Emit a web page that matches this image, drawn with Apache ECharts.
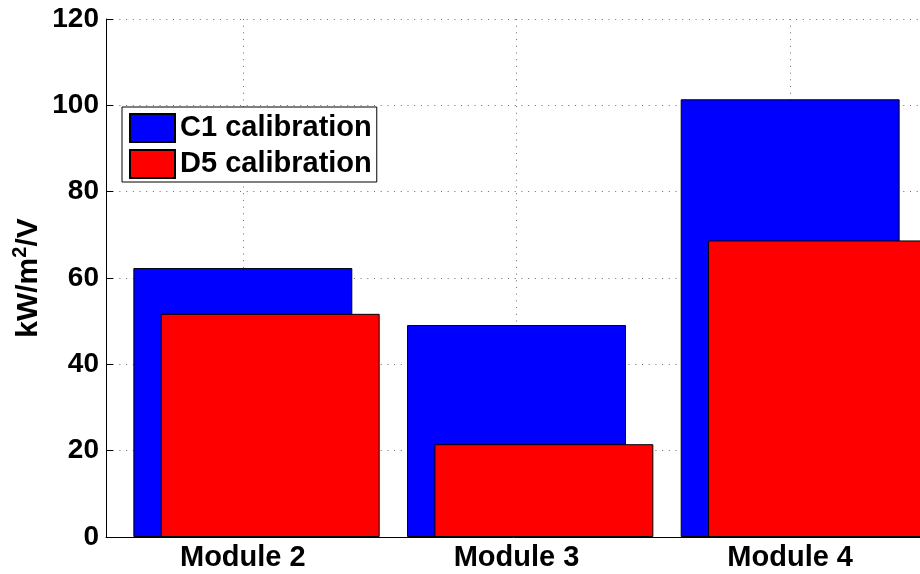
<!DOCTYPE html>
<html>
<head>
<meta charset="utf-8">
<script src="https://cdn.jsdelivr.net/npm/echarts@6/dist/echarts.min.js"></script>
<style>
html,body{margin:0;padding:0;background:#fff;}
#chart{width:920px;height:574px;}
</style>
</head>
<body>
<div id="chart"></div>
<script>
const categories = ['Module 2', 'Module 3', 'Module 4'];
const c1Values = [62.3, 49.1, 101.4];
const d5Values = [51.7, 21.5, 68.7];
const yMin = 0, yMax = 120, yStep = 20;
const seriesNames = ['C1 calibration', 'D5 calibration'];

const FONT = '"Liberation Sans", Arial, Helvetica, sans-serif';
const gridDots = { color: '#6a6a6a', width: 1, type: [1, 5.7] };

const chart = echarts.init(document.getElementById('chart'), null, { renderer: 'canvas' });
const barCommon = { type: 'bar', barWidth: '80%', barGap: '-87.5%' };

chart.setOption({
  animation: false,
  backgroundColor: '#ffffff',
  grid: { left: 106, width: 821, top: 19, bottom: 37, containLabel: false, outerBoundsMode: 'none' },
  legend: {
    data: seriesNames,
    orient: 'vertical',
    left: 122, top: 107,
    icon: 'rect',
    itemWidth: 45, itemHeight: 28, itemGap: 6,
    padding: [6, 5, 3, 7],
    borderColor: '#000', borderWidth: 1,
    backgroundColor: '#fff',
    textStyle: { fontFamily: FONT, fontWeight: 'bold', fontSize: 29, color: '#000', lineHeight: 28 }
  },
  xAxis: {
    type: 'category',
    data: categories,
    boundaryGap: true,
    axisLine: { show: true, lineStyle: { color: '#000', width: 1 } },
    axisTick: { show: true, inside: true, alignWithLabel: true, length: 7, lineStyle: { color: '#000' } },
    splitLine: { show: true, alignWithLabel: true, lineStyle: gridDots },
    axisLabel: { fontFamily: FONT, fontWeight: 'bold', fontSize: 29, color: '#000', margin: 6 }
  },
  yAxis: {
    type: 'value',
    min: yMin, max: yMax, interval: yStep,
    name: '{a|kW/m}{s|2}{a|/V}',
    nameLocation: 'middle',
    nameGap: 62,
    nameRotate: 90,
    nameMoveOverlap: false,
    nameTextStyle: {
      rich: {
        a: { fontFamily: FONT, fontWeight: 'bold', fontSize: 30, color: '#000', verticalAlign: 'bottom', lineHeight: 34 },
        s: { fontFamily: FONT, fontWeight: 'bold', fontSize: 20, color: '#000', verticalAlign: 'top', lineHeight: 34, padding: [0, 0, 12, 0] }
      }
    },
    axisLine: { show: true, lineStyle: { color: '#000', width: 1 } },
    axisTick: { show: true, inside: true, length: 7, lineStyle: { color: '#000' } },
    splitLine: { show: true, lineStyle: gridDots },
    axisLabel: { fontFamily: FONT, fontWeight: 'bold', fontSize: 28, color: '#000', margin: 7 }
  },
  series: [
    Object.assign({ name: '_offset', data: [] }, barCommon),
    Object.assign({ name: seriesNames[0], data: c1Values,
      itemStyle: { color: '#0000ff', borderColor: '#000', borderWidth: 1 } }, barCommon),
    Object.assign({ name: seriesNames[1], data: d5Values,
      itemStyle: { color: '#ff0000', borderColor: '#000', borderWidth: 1 } }, barCommon)
  ]
});
</script>
</body>
</html>
